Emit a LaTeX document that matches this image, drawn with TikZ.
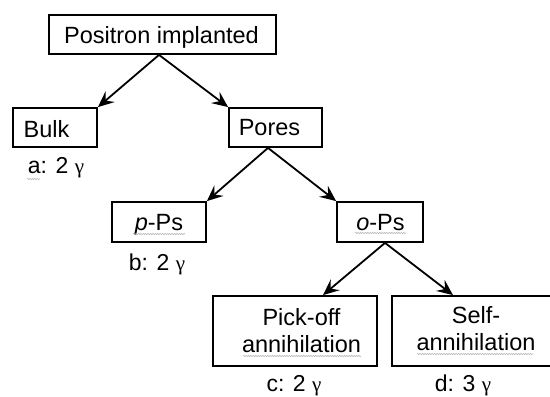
\documentclass[tikz,border=0pt]{standalone}
\usepackage{fontspec}
\setmainfont{Liberation Sans}
\newfontfamily\gammafont{Liberation Serif}
\usetikzlibrary{arrows.meta,calc,decorations.pathmorphing}

\newcommand{\gam}{{\gammafont\fontsize{21}{21}\selectfont γ}}

\begin{document}
\begin{tikzpicture}[x=1pt,y=-1pt,
  frame/.style={draw, line width=1.8pt, inner sep=0pt},
  txt/.style={font=\fontsize{23.5}{27}\selectfont, inner sep=0pt, anchor=base, align=center},
  yield/.style={font=\fontsize{23}{23}\selectfont, inner sep=0pt, anchor=base},
  branch/.style={line width=1.8pt, -{Stealth[length=16pt,width=14pt,inset=6pt]}},
  squiggle/.style={gray!55, line width=0.6pt, decorate,
    decoration={snake, amplitude=0.7pt, segment length=2.4pt}}]

\useasboundingbox (0,0) rectangle (550,397);

% boxes
\node[frame, minimum width=227pt, minimum height=39pt] (pos) at (162.5,34.5) {};
\node[frame, minimum width=84pt,  minimum height=39pt] (bulk) at (55,127.5) {};
\node[frame, minimum width=93pt,  minimum height=39pt] (pores) at (275.5,127.5) {};
\node[frame, minimum width=94pt,  minimum height=40pt] (pps) at (159,222) {};
\node[frame, minimum width=86pt,  minimum height=40pt] (ops) at (380,222) {};
\node[frame, minimum width=164pt, minimum height=70pt] (pick) at (295,331) {};
\node[frame, minimum width=160pt, minimum height=70pt] (self) at (472,331) {};

% box texts (base anchor sits on the last line)
\node[txt] (postxt) at (161.5,43) {Positron implanted};
\node[txt] (bulktxt) at (46.5,137) {Bulk};
\node[txt] (porestxt) at (269.5,135) {Pores};
\node[txt] (ppstxt) at (159,230) {\textit{p}-Ps};
\node[txt] (opstxt) at (380.5,230) {\textit{o}-Ps};
\node[txt] (picktxt) at (301.5,352) {Pick-off\\annihilation};
\node[txt] (selftxt) at (476,350) {Self-\\annihilation};

% annihilation channels
\node[yield] (ya) at (56,173) {a: 2 \gam};
\node[yield] (yb) at (157,270) {b: 2 \gam};
\node[yield] (yc) at (294,391) {c: 2 \gam};
\node[yield] (yd) at (463,391) {d: 3 \gam};

% branches
\draw[branch] ($(pos.south)+(-3.5,0)$) -- (bulk.north east);
\draw[branch] ($(pos.south)+(-3.5,0)$) -- (pores.north west);
\draw[branch] ($(pores.south)+(-7.5,0)$) -- (pps.north east);
\draw[branch] ($(pores.south)+(-7.5,0)$) -- (ops.north west);
\draw[branch] ($(ops.south)+(5,0)$) -- ($(pick.north)+(28,0)$);
\draw[branch] ($(ops.south)+(5,0)$) -- ($(self.north)+(-19,0)$);

% proofing marks under words
\draw[squiggle] (27,179) -- (40,179);
\draw[squiggle] (133,234) -- (185,234);
\draw[squiggle] (355,233) -- (406,233);
\draw[squiggle] (243,356) -- (361,356);
\draw[squiggle] (417,354) -- (533,354);
\end{tikzpicture}
\end{document}
